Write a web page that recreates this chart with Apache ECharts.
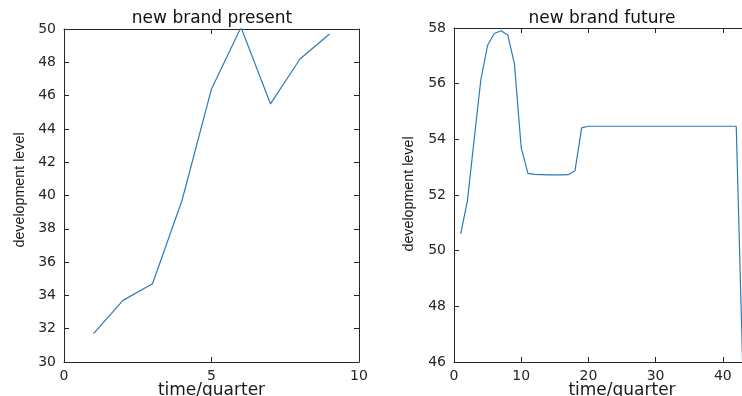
<!DOCTYPE html>
<html>
<head>
<meta charset="utf-8">
<script src="https://cdn.jsdelivr.net/npm/echarts@6/dist/echarts.min.js"></script>
<style>
  html, body { margin: 0; padding: 0; background: #fff; }
  #chart { width: 742px; height: 396px; }
</style>
</head>
<body>
<div id="chart"></div>
<script>
// left panel: new brand present
const presentQuarter = [1, 2, 3, 4, 5, 6, 7, 8, 9];
const presentLevel = [31.7, 33.7, 34.7, 39.7, 46.4, 50.1, 45.5, 48.2, 49.7];

// right panel: new brand future
const futureQuarter = [1, 2, 3, 4, 5, 6, 7, 8, 9, 10,
  11, 12, 13, 14, 15, 16, 17, 18, 19, 20,
  21, 22, 23, 24, 25, 26, 27, 28, 29, 30,
  31, 32, 33, 34, 35, 36, 37, 38, 39, 40,
  41, 42, 43];
const futureLevel = [50.6, 51.8, 54.0, 56.15, 57.38, 57.8, 57.9, 57.75, 56.7, 53.7,
  52.78, 52.74, 52.73, 52.72, 52.72, 52.72, 52.73, 52.87, 54.41, 54.47,
  54.47, 54.47, 54.47, 54.47, 54.47, 54.47, 54.47, 54.47, 54.47, 54.47,
  54.47, 54.47, 54.47, 54.47, 54.47, 54.47, 54.47, 54.47, 54.47, 54.47,
  54.47, 54.47, 45.5];

const titles = ['new brand present', 'new brand future'];
const xName = 'time/quarter';
const yName = 'development level';

const axisColor = '#262626';
const lineColor = '#2b7bb9';
const tickFont = 'DejaVu Sans';

function pairs(xs, ys) {
  return xs.map((x, i) => [x, ys[i]]);
}

function bottomX(grid, max, interval) {
  return {
    type: 'value', gridIndex: grid, position: 'bottom', min: 0, max: max, interval: interval,
    name: xName, nameLocation: 'middle', nameGap: 20, nameMoveOverlap: false,
    nameTextStyle: { fontFamily: tickFont, fontSize: 17, color: '#1a1a1a' },
    axisLine: { show: true, onZero: false, lineStyle: { color: axisColor, width: 1 } },
    axisTick: { show: true, inside: true, length: 5, lineStyle: { color: axisColor } },
    axisLabel: { show: true, margin: 7, fontFamily: tickFont, fontSize: 14, color: axisColor,
      formatter: v => (v % interval === 0 ? String(v) : '') },
    splitLine: { show: false }
  };
}
function topX(grid, max, interval) {
  return {
    type: 'value', gridIndex: grid, position: 'top', min: 0, max: max, interval: interval,
    axisLine: { show: true, onZero: false, lineStyle: { color: axisColor, width: 1 } },
    axisTick: { show: true, inside: true, length: 5, lineStyle: { color: axisColor } },
    axisLabel: { show: false }, splitLine: { show: false }
  };
}
function leftY(grid, min, max) {
  return {
    type: 'value', gridIndex: grid, position: 'left', min: min, max: max, interval: 2,
    axisLine: { show: true, onZero: false, lineStyle: { color: axisColor, width: 1 } },
    axisTick: { show: true, inside: true, length: 5, lineStyle: { color: axisColor } },
    axisLabel: { show: true, margin: 8, fontFamily: tickFont, fontSize: 14, color: axisColor },
    splitLine: { show: false }
  };
}
function rightY(grid, min, max) {
  return {
    type: 'value', gridIndex: grid, position: 'right', min: min, max: max, interval: 2,
    axisLine: { show: true, onZero: false, lineStyle: { color: axisColor, width: 1 } },
    axisTick: { show: true, inside: true, length: 5, lineStyle: { color: axisColor } },
    axisLabel: { show: false }, splitLine: { show: false }
  };
}

function yLabel(x, y) {
  return {
    type: 'text', x: x, y: y, rotation: Math.PI / 2, scaleX: 1.02,
    style: {
      text: yName, fontFamily: 'Liberation Sans', fontSize: 14,
      fill: '#1a1a1a', align: 'center', verticalAlign: 'middle'
    }
  };
}

const chart = echarts.init(document.getElementById('chart'), null, { renderer: 'canvas' });
chart.setOption({
  animation: false,
  backgroundColor: '#fff',
  title: [
    { text: titles[0], left: 212, top: 10, textAlign: 'center', padding: 0,
      textStyle: { fontFamily: tickFont, fontSize: 17, fontWeight: 'normal', color: '#111' } },
    { text: titles[1], left: 602, top: 10, textAlign: 'center', padding: 0,
      textStyle: { fontFamily: tickFont, fontSize: 17, fontWeight: 'normal', color: '#111' } }
  ],
  grid: [
    { left: 64, width: 295, top: 29, bottom: 34, outerBoundsMode: 'none', containLabel: false },
    { left: 454, width: 336, top: 28, bottom: 34, outerBoundsMode: 'none', containLabel: false }
  ],
  xAxis: [bottomX(0, 10, 5), topX(0, 10, 5), bottomX(1, 50, 10), topX(1, 50, 10)],
  yAxis: [leftY(0, 30, 50), rightY(0, 30, 50), leftY(1, 46, 58), rightY(1, 46, 58)],
  graphic: [yLabel(20, 190), yLabel(409, 194)],
  series: [
    { type: 'line', xAxisIndex: 0, yAxisIndex: 0, data: pairs(presentQuarter, presentLevel),
      showSymbol: false, lineStyle: { color: lineColor, width: 1.2 }, itemStyle: { color: lineColor } },
    { type: 'line', xAxisIndex: 2, yAxisIndex: 2, data: pairs(futureQuarter, futureLevel),
      showSymbol: false, clip: true, lineStyle: { color: lineColor, width: 1.2 }, itemStyle: { color: lineColor } }
  ]
});
</script>
</body>
</html>
